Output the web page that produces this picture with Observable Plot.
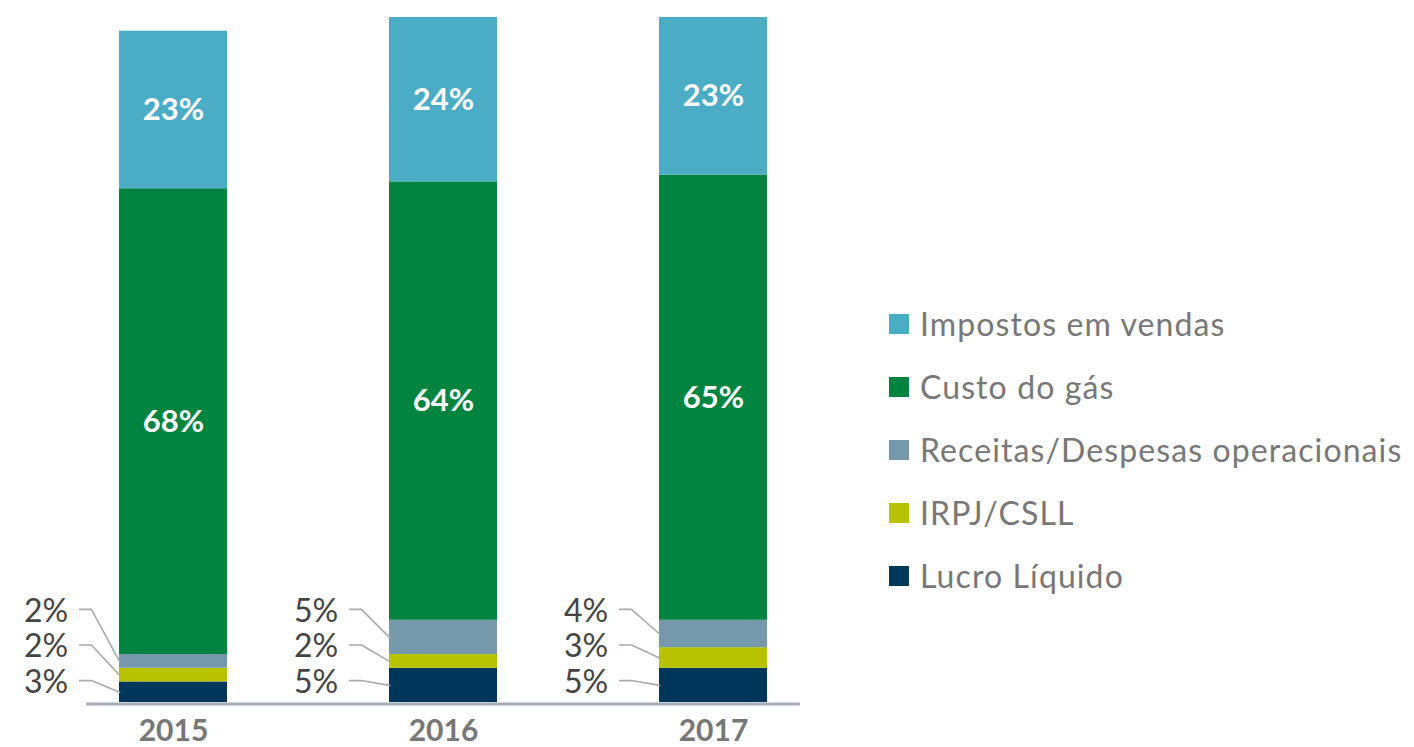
<!DOCTYPE html>
<html><head><meta charset="utf-8">
<script src="https://cdn.jsdelivr.net/npm/d3@7"></script>
<script src="https://cdn.jsdelivr.net/npm/@observablehq/plot@0.6"></script>
<style>
body{margin:0;background:#fff;font-family:Lato,sans-serif;}
#wrap{position:relative;width:1414px;height:747px;overflow:hidden;}
#legend{position:absolute;left:889px;top:292px;}
.item{display:flex;align-items:center;height:63px;font-size:32px;letter-spacing:1.1px;color:#777;white-space:nowrap;}
.sw{width:20px;height:20px;margin-right:11px;flex:none;}
</style></head><body><div id="wrap"><div id="chart"></div><div id="legend"></div></div>
<script>
const years = ["2015", "2016", "2017"];
const series = ["Lucro Líquido", "IRPJ/CSLL", "Receitas/Despesas operacionais", "Custo do gás", "Impostos em vendas"];
const colors = ["#00365a", "#b7c300", "#7598aa", "#00843f", "#4bacc6"];
const lucro = [3, 5, 5];
const irpj = [2, 2, 3];
const receitas = [2, 5, 4];
const custo = [68, 64, 65];
const impostos = [23, 24, 23];
const valuesBySeries = [lucro, irpj, receitas, custo, impostos];

// build stacked rows
const rows = [];
years.forEach((year, i) => {
  let acc = 0;
  series.forEach((s, k) => {
    const v = valuesBySeries[k][i];
    rows.push({i, year, series: s, k, value: v, y1: acc, y2: acc + v, mid: acc + v / 2});
    acc += v;
  });
});

const half = 0.2;           // half bar width in x units
const big = rows.filter(d => d.value >= 10);
const small = rows.filter(d => d.value < 10);

// spread small labels upward so they don't overlap
const gap = 5.2, floor = 3.2;
years.forEach((year, i) => {
  let prev = -Infinity;
  small.filter(d => d.i === i).sort((a, b) => a.k - b.k).forEach(d => {
    d.ly = Math.max(d.mid, prev + gap, floor);
    prev = d.ly;
  });
});
const leaders = [];
small.forEach(d => {
  const key = d.year + d.series;
  leaders.push({key, x: d.i - half - 0.148, y: d.ly});
  leaders.push({key, x: d.i - half - 0.104, y: d.ly});
  leaders.push({key, x: d.i - half, y: d.mid});
});

const chart = Plot.plot({
  width: 1414,
  height: 747,
  margin: 0,
  style: {fontFamily: "Lato, sans-serif", background: "transparent"},
  x: {domain: [0, years.length - 1], range: [173, 713], axis: null},
  y: {domain: [0, 100], range: [702, 17], axis: null},
  color: {domain: series, range: colors},
  marks: [
    Plot.rect(rows, {x1: d => d.i - half, x2: d => d.i + half, y1: "y1", y2: "y2", fill: "series"}),
    Plot.ruleY([0], {x1: -0.322, x2: years.length - 1 + 0.322, stroke: "#a3adb8", strokeWidth: 3, dy: 1.5}),
    Plot.text(big, {x: "i", y: "mid", text: d => d.value + "%", fill: "white", fontWeight: "bold", fontSize: 31}),
    Plot.line(leaders, {x: "x", y: "y", z: "key", stroke: "#aaaaaa", strokeWidth: 1.6}),
    Plot.text(small, {x: d => d.i - half - 0.19, y: "ly", text: d => d.value + "%", textAnchor: "end", fill: "#444", fontSize: 32, dy: 2}),
    Plot.text(years, {x: (d, i) => i, y: () => 0, dy: 29, text: d => d, fill: "#777", fontWeight: "bold", fontSize: 30})
  ]
});
document.getElementById("chart").appendChild(chart);

const legend = document.getElementById("legend");
[...series].reverse().forEach(s => {
  const item = document.createElement("div");
  item.className = "item";
  const sw = document.createElement("span");
  sw.className = "sw";
  sw.style.background = colors[series.indexOf(s)];
  const t = document.createElement("span");
  t.textContent = s;
  item.appendChild(sw); item.appendChild(t);
  legend.appendChild(item);
});
</script></body></html>
